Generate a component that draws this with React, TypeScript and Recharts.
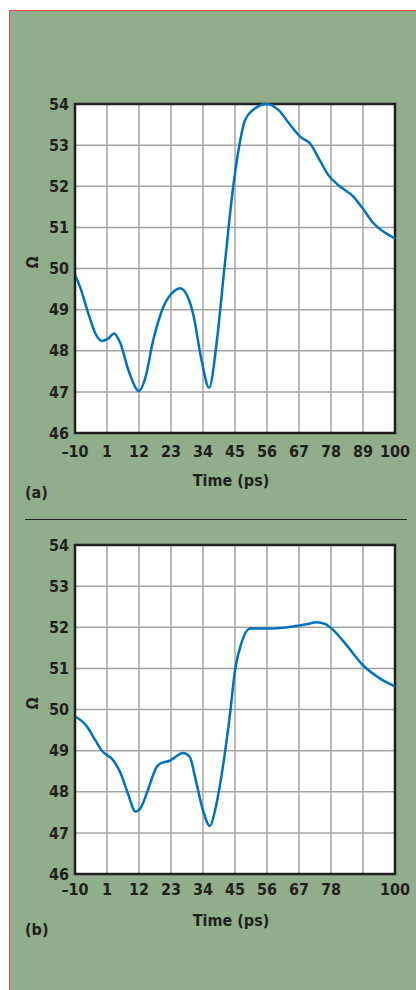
import { LineChart, Line, XAxis, YAxis, CartesianGrid, ReferenceArea } from 'recharts'

// time axis (ps) and impedance axis (ohm)
const timeTicks = [-10, 1, 12, 23, 34, 45, 56, 67, 78, 89, 100]
const ohmTicks = [46, 47, 48, 49, 50, 51, 52, 53, 54]
const tickLabelsA = ['\u201310', '1', '12', '23', '34', '45', '56', '67', '78', '89', '100']
const tickLabelsB = ['\u201310', '1', '12', '23', '34', '45', '56', '67', '78', '', '100']

// panel (a) trace
const timeA = [-10, -8, -5.4, -3, -0.8, 1.5, 3.4, 5.5, 8.5, 12, 14, 16.9, 20.4, 23.8, 26.1, 28.5, 30.6, 33.5, 36.1, 38.7, 41.2, 44.4, 46.5, 48.4, 52, 56, 60, 64, 67.5, 70.8, 74, 77.1, 81, 85.7, 89, 92.6, 96, 100]
const ohmA = [49.85, 49.5, 48.9, 48.42, 48.24, 48.3, 48.42, 48.2, 47.5, 47.02, 47.3, 48.26, 49.07, 49.43, 49.52, 49.35, 48.9, 47.77, 47.1, 48.2, 49.9, 52.0, 53.0, 53.6, 53.9, 54.0, 53.85, 53.49, 53.2, 53.04, 52.65, 52.27, 52.0, 51.75, 51.45, 51.1, 50.9, 50.73]

// panel (b) trace
const timeB = [-10, -6, -3, -0.8, 3.2, 5.5, 8, 10.8, 12.5, 14.6, 18.1, 19.2, 22.7, 27.2, 29.5, 31.3, 34, 36.4, 38, 40.1, 43.3, 45, 47.3, 50.2, 55.9, 65, 70, 73.1, 75.9, 78.8, 83.4, 89.1, 94.9, 100]
const ohmB = [49.83, 49.6, 49.25, 49.0, 48.76, 48.48, 48.0, 47.52, 47.6, 47.95, 48.6, 48.68, 48.76, 48.94, 48.84, 48.35, 47.55, 47.17, 47.5, 48.28, 49.9, 50.95, 51.64, 51.97, 51.97, 52.02, 52.08, 52.12, 52.08, 51.93, 51.56, 51.07, 50.75, 50.56]

const dataA = timeA.map((t, i) => ({ t, ohm: ohmA[i] }))
const dataB = timeB.map((t, i) => ({ t, ohm: ohmB[i] }))

const font = '"Liberation Sans Narrow", "DejaVu Sans Condensed", sans-serif'
const ink = '#231f20'
const tickStyle = { fill: ink, fontSize: 16, fontWeight: 700, fontFamily: font }

function Panel({ data, labels, tickGap, labelOffset }: { data: { t: number; ohm: number }[]; labels: string[]; tickGap: number; labelOffset: number }) {
  return (
    <LineChart width={416} height={499} data={data} margin={{ top: 104, right: 21, left: 15, bottom: 6 }}>
      <CartesianGrid fill="#fff" stroke="#a5a5a5" strokeWidth={1.5} />
      <XAxis
        dataKey="t"
        type="number"
        domain={[-10, 100]}
        ticks={timeTicks}
        tickFormatter={(v: number) => labels[timeTicks.indexOf(v)]}
        interval={0}
        height={60}
        tickLine={false}
        tickSize={0}
        tickMargin={tickGap}
        axisLine={{ stroke: ink, strokeWidth: 2 }}
        tick={tickStyle}
        label={{ value: 'Time (ps)', position: 'insideBottom', offset: labelOffset, dx: -4, fill: ink, fontSize: 16, fontWeight: 700, fontFamily: font }}
      />
      <YAxis
        type="number"
        domain={[46, 54]}
        ticks={ohmTicks}
        interval={0}
        width={60}
        tickLine={false}
        tickSize={0}
        tickMargin={6}
        axisLine={{ stroke: ink, strokeWidth: 2 }}
        tick={tickStyle}
        label={{ value: '\u03a9', angle: -90, position: 'insideLeft', offset: 17, fill: ink, fontSize: 16, fontWeight: 700, fontFamily: font }}
      />
      <ReferenceArea x1={-10} x2={100} y1={46} y2={54} fill="none" fillOpacity={0} stroke={ink} strokeWidth={2.5} />
      <Line type="monotone" dataKey="ohm" stroke="#0072bc" strokeWidth={2.5} dot={false} isAnimationActive={false} />
    </LineChart>
  )
}

export default function App() {
  return (
    <div style={{ position: 'absolute', left: 0, top: 0, width: 416, height: 990, overflow: 'hidden', background: '#fff' }}>
      <div style={{ position: 'absolute', left: 9, top: 10, width: 420, height: 1000, background: '#91ad8b', borderLeft: '1px solid #e3484b', borderTop: '1px solid #e3484b' }} />
      <div style={{ position: 'absolute', left: 0, top: 0 }}>
        <Panel data={dataA} labels={tickLabelsA} tickGap={13} labelOffset={7} />
      </div>
      <div style={{ position: 'absolute', left: 25, top: 483, fontFamily: font, fontWeight: 700, fontSize: 16, color: ink }}>(a)</div>
      <div style={{ position: 'absolute', left: 25, top: 519, width: 382, height: 0, borderTop: '1.5px solid #231f20' }} />
      <div style={{ position: 'absolute', left: 0, top: 441 }}>
        <Panel data={dataB} labels={tickLabelsB} tickGap={10} labelOffset={8} />
      </div>
      <div style={{ position: 'absolute', left: 25, top: 920, fontFamily: font, fontWeight: 700, fontSize: 16, color: ink }}>(b)</div>
    </div>
  )
}
